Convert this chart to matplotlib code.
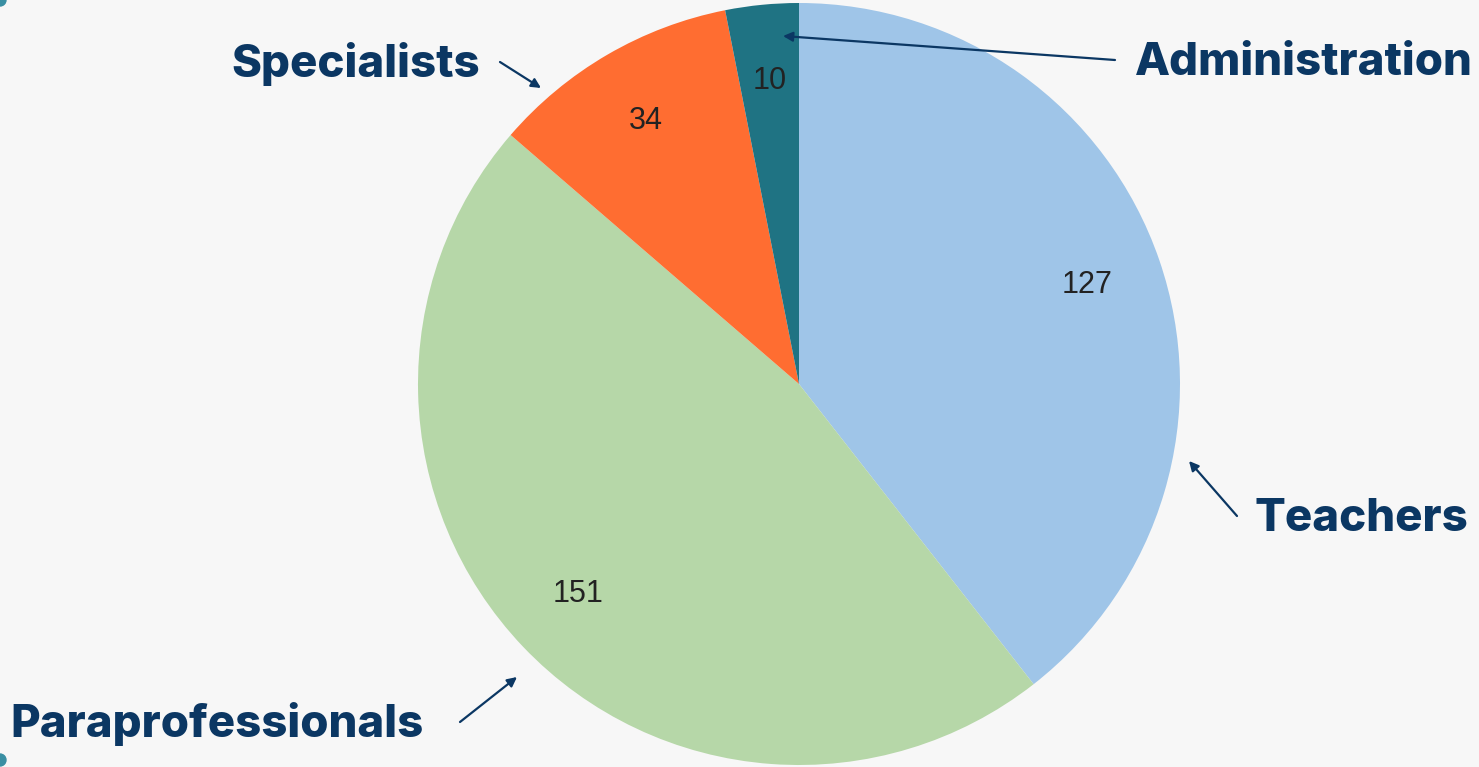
import matplotlib
matplotlib.use("Agg")
import matplotlib.pyplot as plt
from matplotlib.patches import Circle
import numpy as np

categories = ["Teachers", "Paraprofessionals", "Specialists", "Administration"]
values = [127, 151, 34, 10]

colors = ["#9fc5e8", "#b6d7a8", "#ff6d31", "#1f7383"]
navy = "#0b3763"

W, H = 1479, 767
fig = plt.figure(figsize=(W / 100, H / 100), dpi=100)
fig.patch.set_facecolor("#f7f7f7")
ax = fig.add_axes([0, 0, 1, 1])
ax.set_facecolor("#f7f7f7")

cx, cy, R = 799, H - 384, 381
wedges = ax.pie(values, colors=colors, startangle=90, counterclock=False,
                center=(cx, cy), radius=R, wedgeprops=dict(linewidth=0))[0]
for w, v in zip(wedges, values):
    ang = np.deg2rad((w.theta1 + w.theta2) / 2)
    ax.text(cx + 0.8 * R * np.cos(ang), cy + 0.8 * R * np.sin(ang), str(v),
            ha="center", va="center", fontsize=22, color="#222222",
            family="Liberation Sans")

ax.set_xlim(0, W)
ax.set_ylim(0, H)
ax.set_aspect("equal")
ax.axis("off")

lab_font = dict(fontsize=32.8, fontweight="heavy", color=navy, family="Inter", va="center")
arrow = dict(arrowstyle="-|>", color=navy, lw=1.6, mutation_scale=14, shrinkA=0, shrinkB=0)

ax.text(1135, H - 63, categories[3], ha="left", **lab_font)
ax.annotate("", xy=(783, H - 36), xytext=(1115, H - 60), arrowprops=arrow)

ax.text(480, H - 64, categories[2], ha="right", **lab_font)
ax.annotate("", xy=(541, H - 88), xytext=(500, H - 62), arrowprops=arrow)

ax.text(1255, H - 519, categories[0], ha="left", **lab_font)
ax.annotate("", xy=(1189, H - 461), xytext=(1237, H - 516), arrowprops=arrow)

ax.text(10, H - 724, categories[1], ha="left", **lab_font)
ax.annotate("", xy=(517, H - 677), xytext=(460, H - 722), arrowprops=arrow)

ax.add_patch(Circle((0, H), 6, color="#3a8fa3", clip_on=False))
ax.add_patch(Circle((0, H - 760), 6, color="#3a8fa3", clip_on=False))

fig.savefig("out.png", dpi=100, facecolor=fig.get_facecolor())
